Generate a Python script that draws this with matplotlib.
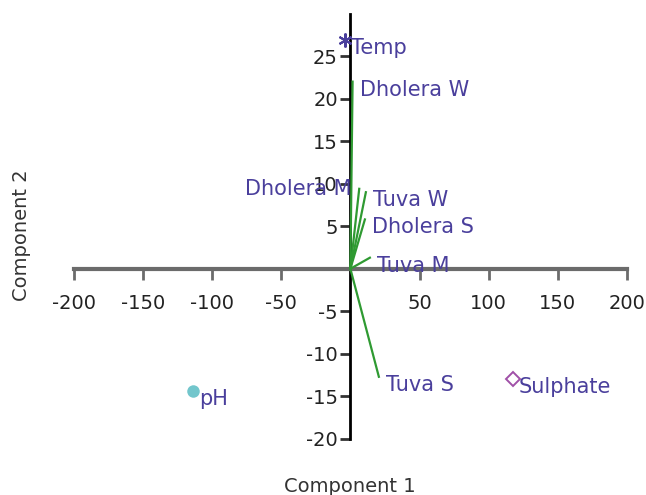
import matplotlib
matplotlib.use("Agg")
import matplotlib.pyplot as plt

plt.rcParams['font.family'] = ['DejaVu Sans']

# Loadings / sample vectors (green lines from origin)
line_names = ["Dholera W", "Dholera M", "Tuva W", "Dholera S", "Tuva M", "Tuva S"]
line_x = [1.6, 6.4, 11.2, 10.5, 14.1, 20.6]
line_y = [22.0, 9.4, 9.0, 5.8, 1.3, -12.7]

# Variable points
pt_names = ["Temp", "pH", "Sulphate"]
pt_x = [-4.0, -113.9, 117.5]
pt_y = [26.9, -14.35, -13.0]

x_ticks = [-200, -150, -100, -50, 50, 100, 150, 200]
y_ticks = [-20, -15, -10, -5, 5, 10, 15, 20, 25]

label_color = "#4a3f9c"
green = "#2f9a32"

fig = plt.figure(figsize=(6.46, 4.95), dpi=100)
ax = fig.add_axes([0, 0, 1, 1])
ax.set_xlim(-253.4, 213.8)
ax.set_ylim(-26.6, 31.6)
ax.patch.set_visible(False)

for n, x, y in zip(line_names, line_x, line_y):
    ax.plot([0, x], [0, y], color=green, lw=1.6, zorder=3)

ax.plot(pt_x[0], pt_y[0], marker=(6, 2, 0), color="#4a3f9c", ms=10, mew=1.5, zorder=4)
ax.plot(pt_x[1], pt_y[1], marker="o", color="#72c6cc", ms=9, mew=0, zorder=4)
ax.plot(pt_x[2], pt_y[2], marker="D", mfc="none", mec="#a050a8", ms=7, mew=1.4, zorder=4)

# labels
def lab(x, y, s, ha="left", dx=6, dy=-8):
    ax.annotate(s, (x, y), xytext=(dx, dy), textcoords="offset pixels",
                ha=ha, va="center", fontsize=15, color=label_color, zorder=5)

for n, x, y in zip(line_names, line_x, line_y):
    if n == "Dholera M":
        lab(x, y, n, ha="right", dx=-8, dy=0)
    elif n == "Dholera W":
        lab(x, y, n, dx=7, dy=-8)
    else:
        lab(x, y, n, dx=7, dy=-8)
for n, x, y in zip(pt_names, pt_x, pt_y):
    lab(x, y, n, dx=6, dy=-8)

# axes through origin
for s in ["top", "right"]:
    ax.spines[s].set_visible(False)
ax.spines["left"].set_position(("data", 0))
ax.spines["bottom"].set_position(("data", 0))
ax.spines["left"].set_bounds(-20, 29.9)
ax.spines["bottom"].set_bounds(-200, 200)
ax.spines["left"].set_color("black")
ax.spines["left"].set_linewidth(2)
ax.spines["bottom"].set_color("#6b6b6b")
ax.spines["bottom"].set_linewidth(3)
ax.spines["left"].set_zorder(2)
ax.spines["bottom"].set_zorder(2)

ax.set_xticks(x_ticks)
ax.set_yticks(y_ticks)
ax.set_xticklabels([str(t) for t in x_ticks])
ax.set_yticklabels([str(t) for t in y_ticks])
ax.tick_params(axis="x", direction="out", length=8, width=2, color="#6b6b6b",
               labelsize=14, pad=10, labelcolor="#222222")
ax.tick_params(axis="y", direction="out", length=7, width=2, color="#333333",
               labelsize=14, pad=2, labelcolor="#222222")

fig.text(350 / 646, 1 - 487 / 495, "Component 1", ha="center", va="center",
         fontsize=14, color="#333333")
fig.text(22 / 646, 1 - 235 / 495, "Component 2", ha="center", va="center",
         rotation=90, fontsize=14, color="#333333")

fig.savefig("out.png", dpi=100)
